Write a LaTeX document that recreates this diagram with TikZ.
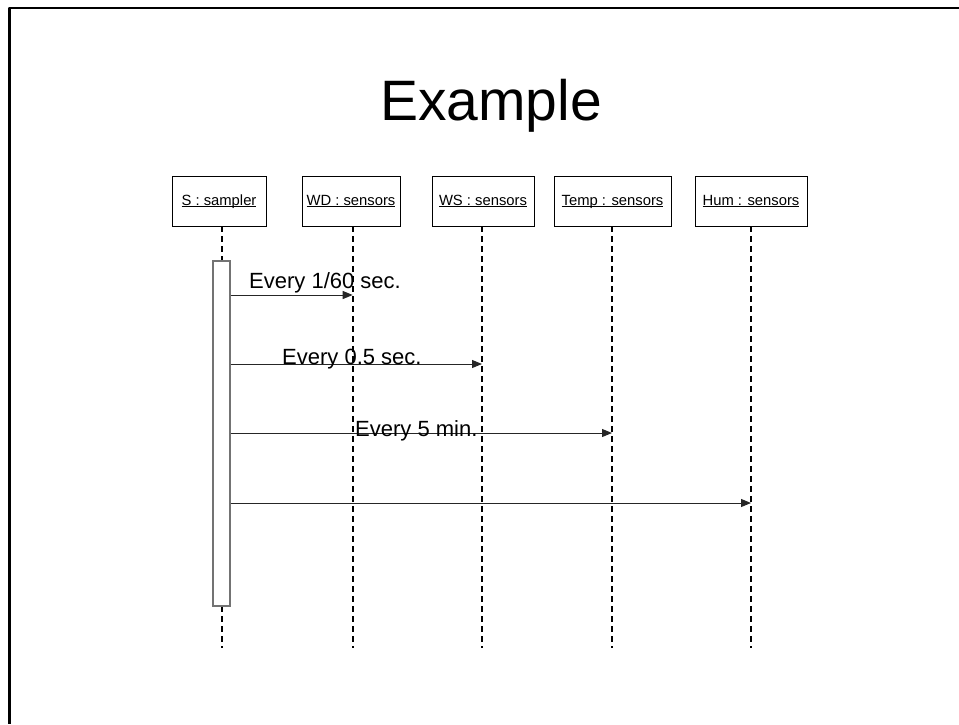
\documentclass[tikz,border=0pt]{standalone}
\usepackage{fontspec}
\setmainfont{Liberation Sans}
\usetikzlibrary{arrows.meta}
% underline drawn at a fixed depth under the baseline
\newcommand\objname[1]{\setbox0\hbox{#1}\rlap{\rule[-2.2pt]{\wd0}{0.9pt}}\box0}
\begin{document}
\begin{tikzpicture}[x=1pt,y=-1pt,
  objbox/.style={draw=black,line width=1pt,minimum height=50pt,inner sep=0pt,
    text height=11pt,text depth=3pt,font=\fontsize{14.8}{16}\selectfont},
  lifeline/.style={draw=black,line width=1.8pt,dash pattern=on 6pt off 4pt},
  actbox/.style={draw=black!55,line width=1.1pt,fill=white,inner sep=0pt},
  msg/.style={draw=black!85,line width=1pt,-{Triangle[length=10pt,width=8pt]}},
  msglabel/.style={anchor=base west,inner sep=0pt,font=\fontsize{22}{24}\selectfont},
  frameline/.style={draw=black,line width=2.5pt}]
\useasboundingbox (0,0) rectangle (959,724);
% slide frame
\draw[frameline] (959,8) -- (8.5,8) -- (9.7,8) -- (9.7,724);
% title
\node[anchor=base,inner sep=0pt,font=\fontsize{57}{60}\selectfont] (title) at (491,120) {Example};
% objects
\node[objbox,minimum width=94pt] (s) at (219,201) {\objname{S : sampler}};
\node[objbox,minimum width=98pt] (wd) at (351,201) {\objname{WD : sensors}};
\node[objbox,minimum width=102pt] (ws) at (483,201) {\objname{WS : sensors}};
\node[objbox,minimum width=117pt] (temp) at (612.5,201) {\objname{Temp : sensors}};
\node[objbox,minimum width=112pt] (hum) at (751,201) {\objname{Hum : sensors}};
% lifeline ends
\coordinate (sE) at (222,648);
\coordinate (wdE) at (352.7,648);
\coordinate (wsE) at (482,648);
\coordinate (tempE) at (612,648);
\coordinate (humE) at (751,648);
\coordinate (sT) at (222,226);
\coordinate (wdT) at (352.7,226);
\coordinate (wsT) at (482,226);
\coordinate (tempT) at (612,226);
\coordinate (humT) at (751,226);
\draw[lifeline] (sT) -- (sE);
\draw[lifeline] (wdT) -- (wdE);
\draw[lifeline] (wsT) -- (wsE);
\draw[lifeline] (tempT) -- (tempE);
\draw[lifeline] (humT) -- (humE);
% activation bar
\node[actbox,minimum width=17pt,minimum height=345pt] (act) at (221.5,433.5) {};
% messages
\coordinate (m1) at (352.7,295);
\coordinate (m2) at (482,364);
\coordinate (m3) at (612,433);
\coordinate (m4) at (751,503);
\draw[msg] (act.east |- m1) -- (m1);
\draw[msg] (act.east |- m2) -- (m2);
\draw[msg] (act.east |- m3) -- (m3);
\draw[msg] (act.east |- m4) -- (m4);
\node[msglabel] (l1) at (249,288) {Every 1/60 sec.};
\node[msglabel] (l2) at (282,364) {Every 0.5 sec.};
\node[msglabel] (l3) at (355,436) {Every 5 min.};
\end{tikzpicture}
\end{document}
